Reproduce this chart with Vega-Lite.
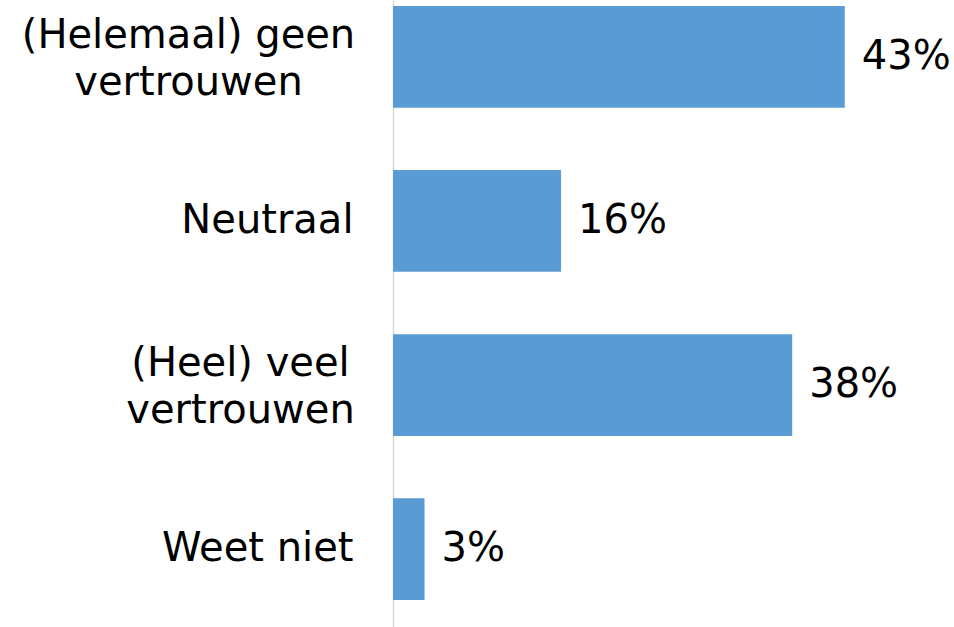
{
  "$schema": "https://vega.github.io/schema/vega-lite/v6.json",
  "autosize": "none",
  "padding": {"left": 393, "top": 0, "right": 0, "bottom": 0},
  "width": 561,
  "height": 627,
  "background": "white",
  "config": {"view": {"stroke": null}, "font": "DejaVu Sans"},
  "data": {
    "values": [
      {"categorie": "(Helemaal) geen vertrouwen", "pct": 0.43},
      {"categorie": "Neutraal", "pct": 0.16},
      {"categorie": "(Heel) veel vertrouwen", "pct": 0.38},
      {"categorie": "Weet niet", "pct": 0.03}
    ]
  },
  "encoding": {
    "y": {
      "field": "categorie",
      "type": "nominal",
      "sort": null,
      "scale": {"paddingInner": 0.38, "paddingOuter": 0.1, "align": 0.18},
      "axis": {
        "title": null,
        "ticks": false,
        "grid": false,
        "domainColor": "#d9d9d9",
        "domainWidth": 1.5,
        "labelFont": "DejaVu Sans",
        "labelFontSize": 40,
        "labelColor": "black",
        "labelLimit": 0,
        "labelLineHeight": 47,
        "labelAlign": {"condition": {"test": "indexof(datum.value, 'vertrouwen') >= 0", "value": "center"}, "value": "right"},
        "labelPadding": {"condition": [
          {"test": "datum.value == '(Helemaal) geen vertrouwen'", "value": 205},
          {"test": "datum.value == '(Heel) veel vertrouwen'", "value": 153}
        ], "value": 40},
        "labelOffset": {"condition": {"test": "indexof(datum.value, 'vertrouwen') >= 0", "value": -21}, "value": 0},
        "labelExpr": "datum.label == '(Helemaal) geen vertrouwen' ? ['(Helemaal) geen', 'vertrouwen'] : datum.label == '(Heel) veel vertrouwen' ? ['(Heel) veel', 'vertrouwen'] : datum.label"
      }
    },
    "x": {
      "field": "pct",
      "type": "quantitative",
      "scale": {"domain": [0, 0.534], "nice": false},
      "axis": null
    }
  },
  "layer": [
    {"mark": {"type": "bar", "color": "#5B9BD5"}},
    {
      "mark": {"type": "text", "align": "left", "baseline": "middle", "dx": 17, "fontSize": 40, "font": "DejaVu Sans", "color": "black"},
      "encoding": {"text": {"field": "pct", "type": "quantitative", "format": ".0%"}}
    }
  ]
}
